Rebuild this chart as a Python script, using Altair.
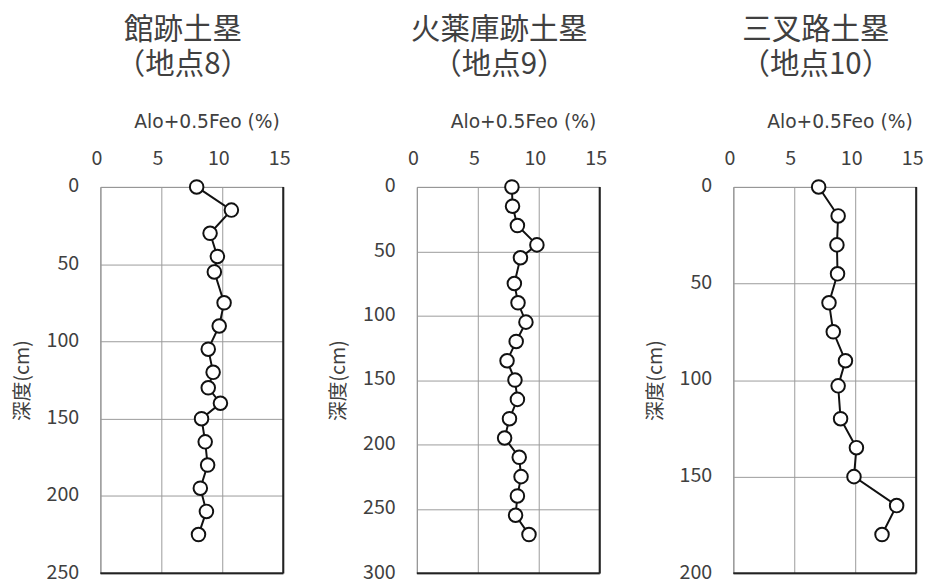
import altair as alt
import pandas as pd

# ---- data ----
titles = [["館跡土塁", "（地点8）"], ["火薬庫跡土塁", "（地点9）"], ["三叉路土塁", "（地点10）"]]
depth_max = [250, 300, 200]
x_ticks = [0, 5, 10, 15]
x_title = "Alo+0.5Feo (%)"
y_title = "深度(cm)"

depth_8 = [0, 15, 30, 45, 55, 75, 90, 105, 120, 130, 140, 150, 165, 180, 195, 210, 225]
value_8 = [7.9, 10.75, 9.0, 9.6, 9.35, 10.15, 9.75, 8.85, 9.25, 8.85, 9.85, 8.3, 8.6, 8.8, 8.2, 8.7, 8.05]

depth_9 = [0, 15, 30, 45, 55, 75, 90, 105, 120, 135, 150, 165, 180, 195, 210, 225, 240, 255, 270]
value_9 = [7.8, 7.85, 8.25, 9.85, 8.5, 8.0, 8.3, 8.95, 8.15, 7.4, 8.05, 8.25, 7.6, 7.2, 8.4, 8.55, 8.25, 8.1, 9.2]

depth_10 = [0, 15, 30, 45, 60, 75, 90, 103, 120, 135, 150, 165, 180]
value_10 = [7.0, 8.6, 8.5, 8.55, 7.85, 8.2, 9.2, 8.6, 8.8, 10.1, 9.9, 13.4, 12.2]

FONT = "Noto Sans CJK JP"
LATIN = "DejaVu Sans"
TXT = "#404040"
GRID = "#9a9a9a"


def panel(depths, values, title, ymax):
    df = pd.DataFrame({"depth": depths, "value": values})
    x = alt.X(
        "value:Q",
        scale=alt.Scale(domain=[x_ticks[0], x_ticks[-1]], nice=False, zero=False),
        axis=alt.Axis(
            orient="top", values=x_ticks, title=x_title, domain=False, ticks=False,
            grid=True, gridColor=GRID, gridWidth=1,
            labelFont=FONT, labelFontSize=20, labelColor=TXT, labelPadding=19, labelOffset=-4,
            titleFont=LATIN, titleFontSize=19, titleFontWeight="normal", titleColor=TXT,
            titlePadding=17, titleX=108, titleAlign="center", labelFlush=False,
        ),
    )
    y = alt.Y(
        "depth:Q",
        scale=alt.Scale(domain=[0, ymax], reverse=True, nice=False),
        axis=alt.Axis(
            values=list(range(0, ymax + 1, 50)), title=y_title, domain=False, ticks=False,
            grid=True, gridColor=GRID, gridWidth=1,
            labelFont=FONT, labelFontSize=20, labelColor=TXT, labelPadding=22, labelOffset=-1,
            titleFont=FONT, titleFontSize=20, titleFontWeight="normal", titleColor=TXT,
            titlePadding=14, labelFlush=False,
        ),
    )
    base = alt.Chart(df).encode(x=x, y=y, order="depth:Q")
    line = base.mark_line(color="#111111", strokeWidth=2)
    pts = base.mark_circle(size=190, color="white", stroke="#111111", strokeWidth=2, opacity=1)
    edge = pd.DataFrame({"xmax": [x_ticks[-1]], "ymax": [ymax]})
    right = alt.Chart(edge).mark_rule(color="#222222", strokeWidth=2).encode(x="xmax:Q")
    bottom = alt.Chart(edge).mark_rule(color="#222222", strokeWidth=2).encode(y="ymax:Q")
    return alt.layer(line, pts, right, bottom).properties(
        width=186, height=393,
        title=alt.TitleParams(
            text=title, font=FONT, fontSize=30, fontWeight="normal", color=TXT,
            anchor="middle", frame="group", dx=-9, lineHeight=35.5, offset=34,
        ),
    )


chart = alt.hconcat(
    panel(depth_8, value_8, titles[0], depth_max[0]),
    panel(depth_9, value_9, titles[1], depth_max[1]),
    panel(depth_10, value_10, titles[2], depth_max[2]),
    spacing=38,
).configure_view(stroke="#777777", strokeWidth=1).properties(
    background="white",
    padding={"left": 4, "top": 2, "right": 0, "bottom": 0},
)

chart.save("out.html", embed_options={"renderer": "svg", "actions": False})
